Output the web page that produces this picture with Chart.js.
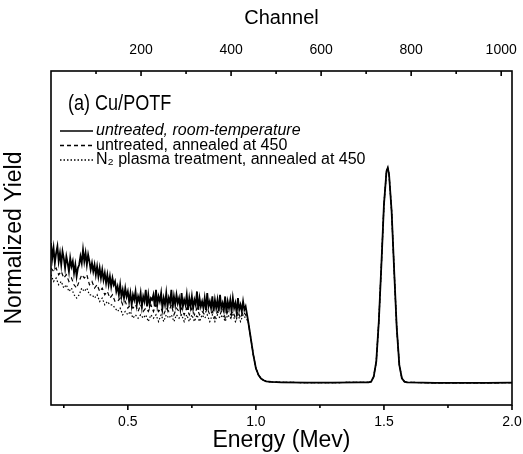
<!DOCTYPE html>
<html>
<head>
<meta charset="utf-8">
<script src="https://cdn.jsdelivr.net/npm/chart.js@4.4.1/dist/chart.umd.min.js"></script>
<style>
  html, body { margin: 0; padding: 0; background: #fff; }
</style>
</head>
<body>
<canvas id="chartCanvas" width="523" height="454"></canvas>
<script>
    // energy (MeV), finer grid for the room-temperature spectrum (noisy part)
    var energyFine = [
        0.200, 0.205, 0.210, 0.215, 0.220, 0.225, 0.230, 0.235, 0.240, 0.245,
        0.250, 0.255, 0.260, 0.265, 0.270, 0.275, 0.280, 0.285, 0.290, 0.295,
        0.300, 0.305, 0.310, 0.315, 0.320, 0.325, 0.330, 0.335, 0.340, 0.345,
        0.350, 0.355, 0.360, 0.365, 0.370, 0.375, 0.380, 0.385, 0.390, 0.395,
        0.400, 0.405, 0.410, 0.415, 0.420, 0.425, 0.430, 0.435, 0.440, 0.445,
        0.450, 0.455, 0.460, 0.465, 0.470, 0.475, 0.480, 0.485, 0.490, 0.495,
        0.500, 0.505, 0.510, 0.515, 0.520, 0.525, 0.530, 0.535, 0.540, 0.545,
        0.550, 0.555, 0.560, 0.565, 0.570, 0.575, 0.580, 0.585, 0.590, 0.595,
        0.600, 0.605, 0.610, 0.615, 0.620, 0.625, 0.630, 0.635, 0.640, 0.645,
        0.650, 0.655, 0.660, 0.665, 0.670, 0.675, 0.680, 0.685, 0.690, 0.695,
        0.700, 0.705, 0.710, 0.715, 0.720, 0.725, 0.730, 0.735, 0.740, 0.745,
        0.750, 0.755, 0.760, 0.765, 0.770, 0.775, 0.780, 0.785, 0.790, 0.795,
        0.800, 0.805, 0.810, 0.815, 0.820, 0.825, 0.830, 0.835, 0.840, 0.845,
        0.850, 0.855, 0.860, 0.865, 0.870, 0.875, 0.880, 0.885, 0.890, 0.895,
        0.900, 0.905, 0.910, 0.915, 0.920, 0.925, 0.930, 0.935, 0.940, 0.945,
        0.950, 0.955, 0.960
    ];
    var yieldRoomTemp = [
        0.485, 0.44, 0.47, 0.425, 0.455, 0.475, 0.43, 0.455, 0.42, 0.46,
        0.44, 0.41, 0.445, 0.425, 0.40, 0.44, 0.415, 0.43, 0.395, 0.42,
        0.385, 0.41, 0.42, 0.445, 0.425, 0.465, 0.43, 0.455, 0.42, 0.45,
        0.43, 0.405, 0.425, 0.40, 0.42, 0.39, 0.415, 0.385, 0.41, 0.38,
        0.405, 0.375, 0.395, 0.365, 0.39, 0.36, 0.385, 0.355, 0.38, 0.36,
        0.37, 0.34, 0.355, 0.33, 0.36, 0.325, 0.345, 0.32, 0.35, 0.325,
        0.34, 0.31, 0.335, 0.30, 0.33, 0.315, 0.34, 0.30, 0.325, 0.31,
        0.335, 0.295, 0.325, 0.31, 0.345, 0.295, 0.33, 0.30, 0.32, 0.315,
        0.33, 0.295, 0.345, 0.30, 0.325, 0.31, 0.335, 0.29, 0.32, 0.30,
        0.335, 0.295, 0.32, 0.305, 0.345, 0.29, 0.325, 0.30, 0.33, 0.305,
        0.32, 0.29, 0.335, 0.295, 0.315, 0.30, 0.33, 0.285, 0.32, 0.295,
        0.325, 0.29, 0.315, 0.30, 0.34, 0.285, 0.32, 0.295, 0.31, 0.29,
        0.32, 0.285, 0.335, 0.295, 0.31, 0.29, 0.325, 0.28, 0.315, 0.29,
        0.315, 0.28, 0.33, 0.29, 0.305, 0.285, 0.325, 0.275, 0.31, 0.29,
        0.315, 0.28, 0.32, 0.29, 0.305, 0.275, 0.32, 0.285, 0.30, 0.28,
        0.31, 0.285, 0.295
    ];

    // energy (MeV) for the two annealed spectra (noisy part)
    var energyNoisy = [
        0.20, 0.21, 0.22, 0.23, 0.24, 0.25, 0.26, 0.27, 0.28, 0.29,
        0.30, 0.31, 0.32, 0.33, 0.34, 0.35, 0.36, 0.37, 0.38, 0.39,
        0.40, 0.41, 0.42, 0.43, 0.44, 0.45, 0.46, 0.47, 0.48, 0.49,
        0.50, 0.51, 0.52, 0.53, 0.54, 0.55, 0.56, 0.57, 0.58, 0.59,
        0.60, 0.61, 0.62, 0.63, 0.64, 0.65, 0.66, 0.67, 0.68, 0.69,
        0.70, 0.71, 0.72, 0.73, 0.74, 0.75, 0.76, 0.77, 0.78, 0.79,
        0.80, 0.81, 0.82, 0.83, 0.84, 0.85, 0.86, 0.87, 0.88, 0.89,
        0.90, 0.91, 0.92, 0.93, 0.94, 0.95, 0.96
    ];
    var yieldAnnealed = [
        0.41, 0.40, 0.41, 0.39, 0.40, 0.38, 0.39, 0.37, 0.38, 0.36,
        0.35, 0.37, 0.39, 0.38, 0.39, 0.36, 0.37, 0.35, 0.36, 0.34,
        0.35, 0.33, 0.34, 0.32, 0.33, 0.31, 0.31, 0.32, 0.30, 0.31,
        0.29, 0.30, 0.29, 0.30, 0.28, 0.30, 0.28, 0.29, 0.28, 0.30,
        0.28, 0.30, 0.28, 0.29, 0.27, 0.29, 0.28, 0.30, 0.27, 0.29,
        0.28, 0.29, 0.27, 0.29, 0.27, 0.29, 0.27, 0.29, 0.27, 0.28,
        0.27, 0.29, 0.27, 0.28, 0.26, 0.28, 0.27, 0.29, 0.26, 0.28,
        0.27, 0.28, 0.26, 0.28, 0.26, 0.28, 0.27
    ];
    var yieldPlasma = [
        0.39, 0.37, 0.38, 0.36, 0.37, 0.35, 0.36, 0.34, 0.35, 0.33,
        0.32, 0.33, 0.35, 0.34, 0.35, 0.33, 0.33, 0.32, 0.33, 0.31,
        0.32, 0.30, 0.31, 0.30, 0.30, 0.29, 0.28, 0.29, 0.27, 0.28,
        0.27, 0.28, 0.26, 0.27, 0.26, 0.27, 0.26, 0.27, 0.25, 0.27,
        0.26, 0.27, 0.25, 0.27, 0.25, 0.27, 0.26, 0.27, 0.25, 0.27,
        0.26, 0.27, 0.25, 0.27, 0.25, 0.27, 0.25, 0.27, 0.25, 0.27,
        0.26, 0.27, 0.25, 0.27, 0.25, 0.27, 0.26, 0.27, 0.25, 0.27,
        0.26, 0.27, 0.25, 0.27, 0.25, 0.27, 0.26
    ];

    // edge, baseline and Cu peak: the three spectra coincide here
    var energyTail = [
        0.97, 0.98, 0.99, 1.00, 1.01, 1.02, 1.03, 1.04, 1.05, 1.06,
        1.10, 1.20, 1.30, 1.40,
        1.44, 1.45, 1.46, 1.47, 1.48, 1.49, 1.50, 1.51, 1.515,
        1.52, 1.53, 1.54, 1.55, 1.56, 1.57, 1.58, 1.59,
        1.65, 1.70, 1.80, 1.90, 2.00
    ];
    var yieldTail = [
        0.25, 0.20, 0.15, 0.11, 0.09, 0.079, 0.074, 0.071, 0.070, 0.069,
        0.068, 0.067, 0.067, 0.068,
        0.068, 0.070, 0.085, 0.13, 0.25, 0.42, 0.60, 0.70, 0.71,
        0.69, 0.58, 0.40, 0.23, 0.12, 0.08, 0.07, 0.068,
        0.067, 0.066, 0.066, 0.066, 0.067
    ];

    var seriesLabels = [
        "untreated, room-temperature",
        "untreated, annealed at 450",
        "N\u2082 plasma treatment, annealed at 450"
    ];
    var panelTitle = "(a) Cu/POTF";

    var energyTicks = [0.5, 1.0, 1.5, 2.0];
    var energyMinor = [0.25, 0.75, 1.25, 1.75];
    var channelTicks = [200, 400, 600, 800, 1000];
    var channelMinor = [100, 300, 500, 700, 900];

    var FONT = '"Liberation Sans", Arial, sans-serif';

    var pairs = function(xs, ys) {
        return xs.map(function(x, i) { return {x: x, y: ys[i]}; });
    };

    // no extra room for edge labels, the plot box is fixed
    var noPad = function(s) { s.paddingLeft = 0; s.paddingRight = 0; };

    var framePlugin = {
        id: 'frameTicks',
        afterDraw: function(chart) {
            var a = chart.chartArea, ctx = chart.ctx;
            var xs = chart.scales.x, xt = chart.scales.x2;
            ctx.save();
            ctx.strokeStyle = '#000';
            ctx.lineWidth = 1.6;
            ctx.strokeRect(a.left, a.top, a.right - a.left, a.bottom - a.top);
            ctx.beginPath();
            energyTicks.forEach(function(v) {
                var p = xs.getPixelForValue(v);
                ctx.moveTo(p, a.bottom); ctx.lineTo(p, a.bottom + 5);
            });
            energyMinor.forEach(function(v) {
                var p = xs.getPixelForValue(v);
                ctx.moveTo(p, a.bottom); ctx.lineTo(p, a.bottom + 3);
            });
            channelTicks.forEach(function(v) {
                var p = xt.getPixelForValue(v);
                ctx.moveTo(p, a.top); ctx.lineTo(p, a.top + 5);
            });
            channelMinor.forEach(function(v) {
                var p = xt.getPixelForValue(v);
                ctx.moveTo(p, a.top); ctx.lineTo(p, a.top + 3);
            });
            ctx.stroke();
            ctx.restore();
        }
    };

    var legendPlugin = {
        id: 'insideLegend',
        afterDatasetsDraw: function(chart) {
            var ctx = chart.ctx;
            ctx.save();
            ctx.fillStyle = '#000';
            ctx.strokeStyle = '#000';
            ctx.textBaseline = 'middle';
            // the panel title is set in a narrow face in the original
            ctx.save();
            ctx.translate(68, 104);
            ctx.scale(0.82, 1);
            ctx.font = '22px ' + FONT;
            ctx.fillText(panelTitle, 0, 0);
            ctx.restore();
            chart.data.datasets.forEach(function(ds, i) {
                var y = 131 + i * 14.5;
                ctx.beginPath();
                ctx.setLineDash(ds.borderDash || []);
                ctx.lineWidth = 1.3;
                ctx.moveTo(60, y);
                ctx.lineTo(93, y);
                ctx.stroke();
                ctx.setLineDash([]);
                ctx.font = (i === 0 ? 'italic ' : '') + '16px ' + FONT;
                ctx.fillText(ds.label, 96, y);
            });
            ctx.restore();
        }
    };

    var chartData = {
        datasets: [
            {
                label: seriesLabels[0],
                data: pairs(energyFine.concat(energyTail), yieldRoomTemp.concat(yieldTail)),
                borderColor: '#000',
                borderWidth: 1.8
            },
            {
                label: seriesLabels[1],
                data: pairs(energyNoisy.concat(energyTail), yieldAnnealed.concat(yieldTail)),
                borderColor: '#000',
                borderWidth: 1.2,
                borderDash: [4, 3]
            },
            {
                label: seriesLabels[2],
                data: pairs(energyNoisy.concat(energyTail), yieldPlasma.concat(yieldTail)),
                borderColor: '#000',
                borderWidth: 1.2,
                borderDash: [1.5, 2]
            }
        ]
    };

    var chartOptions = {
        responsive: false,
        animation: false,
        showLine: true,
        layout: { padding: { right: 11 } },
        elements: {
            point: { radius: 0 },
            line: { tension: 0, fill: false }
        },
        plugins: {
            legend: { display: false },
            tooltip: { enabled: false }
        },
        scales: {
            x: {
                type: 'linear', position: 'bottom', min: 0.2, max: 2.0,
                afterBuildTicks: function(s) { s.ticks = energyTicks.map(function(v) { return {value: v}; }); },
                afterFit: function(s) { s.height = 49; noPad(s); },
                grid: { display: false, drawTicks: false },
                border: { display: false },
                ticks: {
                    color: '#000', padding: 9, maxRotation: 0,
                    font: { family: FONT, size: 14 },
                    callback: function(v) { return Number(v).toFixed(1); }
                },
                title: {
                    display: true, text: 'Energy (Mev)', color: '#000',
                    font: { family: FONT, size: 23 }, padding: 0
                }
            },
            x2: {
                type: 'linear', position: 'top', min: 0, max: 1024,
                afterBuildTicks: function(s) { s.ticks = channelTicks.map(function(v) { return {value: v}; }); },
                afterFit: function(s) { s.height = 71; noPad(s); },
                grid: { display: false, drawTicks: false },
                border: { display: false },
                ticks: {
                    color: '#000', padding: 12, maxRotation: 0,
                    font: { family: FONT, size: 14 },
                    callback: function(v) { return String(v); }
                },
                title: {
                    display: true, text: 'Channel', color: '#000',
                    font: { family: FONT, size: 20 }, padding: { top: 6, bottom: 0 }
                }
            },
            y: {
                type: 'linear', min: 0, max: 1,
                afterFit: function(s) { s.width = 51; },
                grid: { display: false, drawTicks: false },
                border: { display: false },
                ticks: { display: false },
                title: {
                    display: true, text: 'Normalized Yield', color: '#000',
                    font: { family: FONT, size: 23 }, padding: { top: 1, bottom: 0 }
                }
            }
        }
    };

    window.onload = function() {
        var ctx = document.getElementById("chartCanvas").getContext("2d");
        window.rbsChart = new Chart(ctx, {
            type: 'scatter',
            data: chartData,
            options: chartOptions,
            plugins: [framePlugin, legendPlugin]
        });
    };
</script>
</body>
</html>
